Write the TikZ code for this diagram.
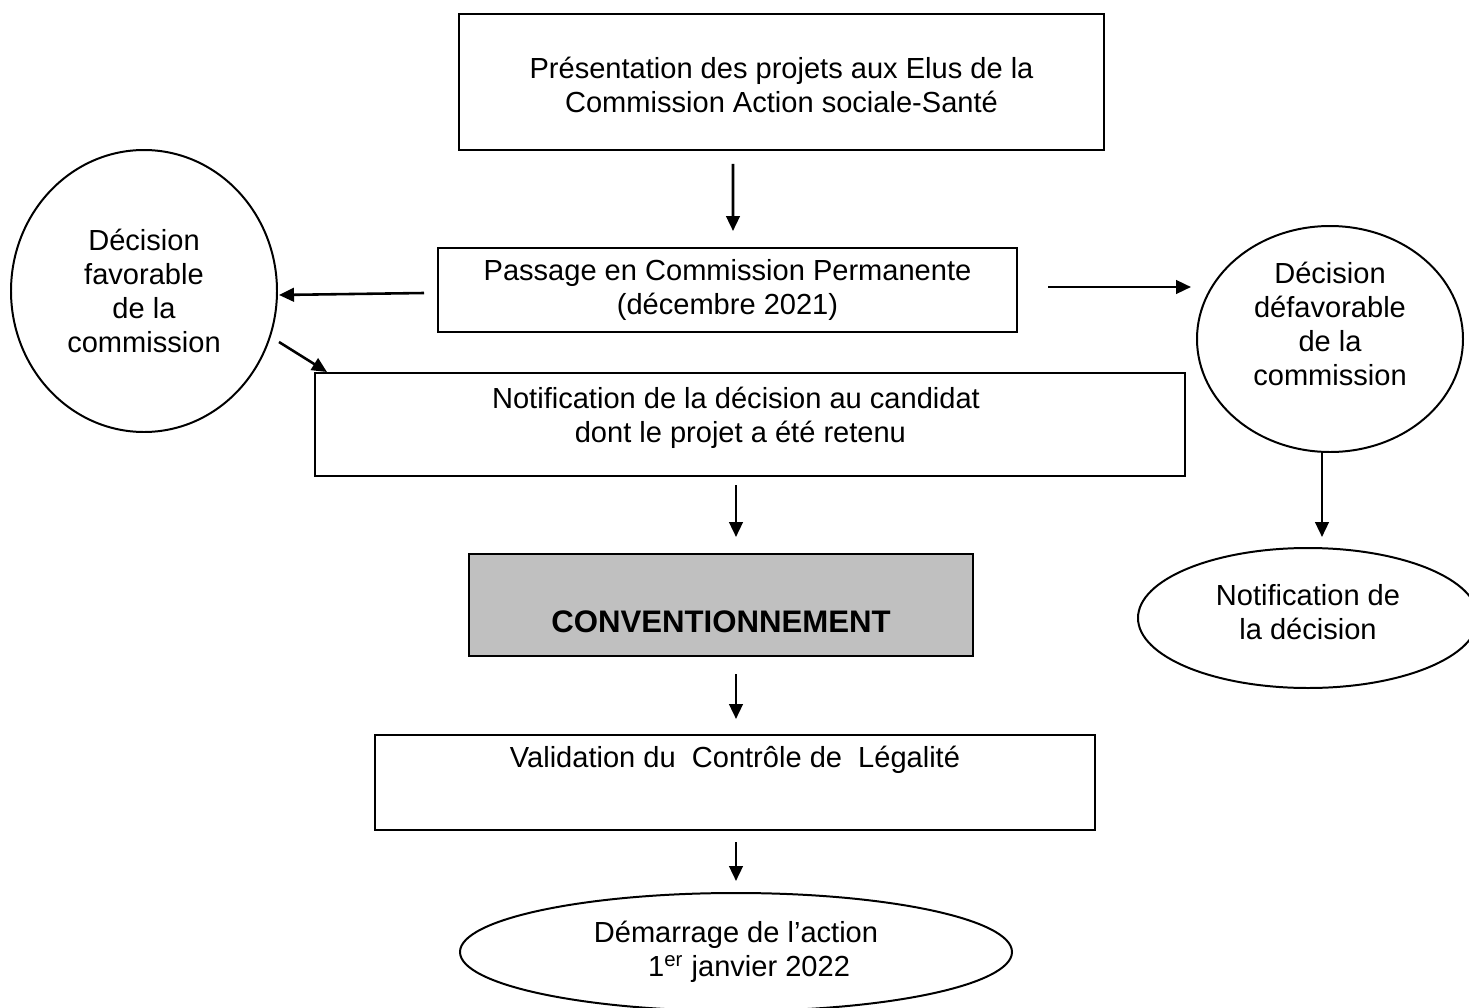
\documentclass[tikz,border=0pt]{standalone}
\usepackage{fontspec}
\setmainfont{Liberation Sans}
\usetikzlibrary{shapes.geometric}
\usetikzlibrary{arrows.meta}
\usetikzlibrary{calc}
\definecolor{convgray}{RGB}{192,192,192}

\tikzset{
	txt/.style={align=center, font=\fontsize{12.4}{14.5}\selectfont, inner sep=0pt},
	sz/.style 2 args={minimum width=#1*0.015cm, minimum height=#2*0.015cm},
	box/.style={draw, line width=0.85pt, rectangle, txt},
	oval/.style={draw, line width=0.85pt, ellipse, txt},
	arr/.style={line width=1.1pt, -{Triangle[length=6.4pt,width=5.8pt]}},
}

\begin{document}
\begin{tikzpicture}[x=0.015cm, y=-0.015cm]
\useasboundingbox (0,0) rectangle (1469,1008);
\clip (0,0) rectangle (1469,1008);
%%%  main column of boxes
\node[box, sz={645}{136},
	label={[txt, yshift=-0.04cm]center:{Présentation des projets aux Elus de la\\Commission Action sociale-Santé}}] (pres) at (781.5,82) {};
\node[box, sz={579}{84}] (pass) at (727.5,290) {Passage en Commission Permanente\\(décembre 2021)};
\node[box, sz={870}{103},
	label={[txt, xshift=-0.21cm, yshift=0.1cm]center:{Notification de la décision au candidat\\\hspace*{0.3em}dont le projet a été retenu}}] (notif) at (750,424.5) {};
\node[box, sz={504}{102}, fill=convgray,
	label={[txt, yshift=-0.255cm, font=\fontsize{13.3}{16}\selectfont\bfseries]center:CONVENTIONNEMENT}] (conv) at (721,605) {};
\node[box, sz={720}{95},
	label={[txt, yshift=0.34cm]center:Validation du\ \ Contrôle de\ \ Légalité}] (valid) at (735,782.5) {};

%%%  decisions (ellipses)
\node[oval, sz={266}{282}] (favo) at (144,291) {Décision\\favorable\\de la\\commission};
\node[oval, sz={266}{226},
	label={[txt, yshift=0.23cm]center:{Décision\\défavorable\\de la\\commission}}] (defa) at (1330,339) {};
\node[oval, sz={340}{140},
	label={[txt, yshift=0.09cm]center:{Notification de\\la décision}}] (notdec) at (1308,618) {};
\node[oval, sz={552}{118}] (start) at (736,952) {Démarrage de l’action\\\hspace*{0.9em}1\textsuperscript{er} janvier 2022};

%%%%%%%%% draw arrows %%%%%%%%
\draw[arr] ($(pres.south)+(-48.5,13)$) -- ($(pass.north)+(5.5,-16)$);
\draw[arr] ($(pass.west)+(-13,3)$) -- ($(favo.east)+(1,4)$);
\draw[arr] ($(favo.east)+(1,51)$) -- ($(notif.north west)+(13,0)$);
\draw[arr] ($(pass.east)+(30,-3)$) -- ($(defa.west)+(-5,-52)$);
\draw[arr] ($(defa.south)+(-8,0)$) -- ($(notdec.north)+(14,-10)$);
\draw[arr] ($(notif.south)+(-14,8)$) -- ($(conv.north)+(15,-16)$);
\draw[arr] ($(conv.south)+(15,17)$) -- ($(valid.north)+(1,-15)$);
\draw[arr] ($(valid.south)+(1,11)$) -- ($(start.north)+(0,-11)$);
\end{tikzpicture}
\end{document}
